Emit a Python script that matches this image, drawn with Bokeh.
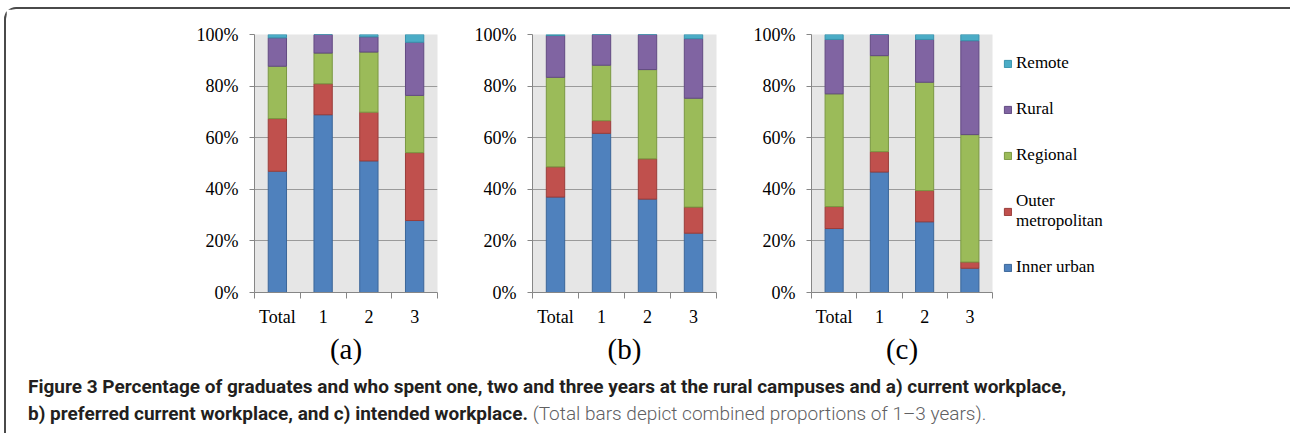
from bokeh.plotting import figure
from bokeh.models import (ColumnDataSource, FixedTicker, PrintfTickFormatter,
                          Legend, LegendItem, Div, Range1d)
from bokeh.layouts import row, column
from bokeh.embed import file_html
from bokeh.resources import INLINE

# ---------------- data ----------------
categories = ["Total", "1", "2", "3"]
layers = ["Inner urban", "Outer metropolitan", "Regional", "Rural", "Remote"]
legend_labels = ["Inner urban", "Outer\nmetropolitan", "Regional", "Rural", "Remote"]
panel_labels = ["(a)", "(b)", "(c)"]
y_ticks = [0, 20, 40, 60, 80, 100]

# (a) current workplace (%)
a_inner    = [47.0, 68.9, 51.0, 27.9]
a_outer    = [20.4, 12.0, 18.9, 26.3]
a_regional = [20.3, 11.9, 23.3, 22.2]
a_rural    = [11.0,  7.2,  5.9, 20.6]
a_remote   = [ 1.3,  0.0,  0.9,  3.0]

# (b) preferred current workplace (%)
b_inner    = [37.0, 61.7, 36.2, 23.0]
b_outer    = [11.7,  4.9, 15.6, 10.1]
b_regional = [34.7, 21.5, 34.6, 42.2]
b_rural    = [16.2, 11.9, 13.6, 23.1]
b_remote   = [ 0.4,  0.0,  0.0,  1.6]

# (c) intended workplace (%)
c_inner    = [24.8, 46.7, 27.4,  9.4]
c_outer    = [ 8.5,  7.9, 12.1,  2.4]
c_regional = [43.7, 37.2, 42.0, 49.4]
c_rural    = [21.1,  8.2, 16.6, 36.4]
c_remote   = [ 1.9,  0.0,  1.9,  2.4]

caption_bold = ("Figure 3 Percentage of graduates and who spent one, two and three years at the rural "
                "campuses and a) current workplace,<br>b) preferred current workplace, and c) intended workplace.")
caption_plain = "(Total bars depict combined proportions of 1\u20133 years)."

# ---------------- style ----------------
fill_colors = ["#4F81BD", "#C0504D", "#9BBB59", "#8064A2", "#4BACC6"]
line_colors = ["#3B6699", "#9A3D3A", "#7A9842", "#624A82", "#3893AD"]
SERIF = "Liberation Serif"
AXIS_GRAY = "#868686"


def make_panel(series, label, frame_width, left, right, with_legend=False):
    keys = ["k%d" % i for i in range(len(layers))]
    data = {"x": [i + 0.5 for i in range(len(categories))]}
    for k, s in zip(keys, series):
        data[k] = s
    src = ColumnDataSource(data)

    p = figure(frame_width=frame_width, frame_height=258,
               min_border_left=left, min_border_right=right,
               min_border_top=25, min_border_bottom=72,
               x_range=Range1d(0, len(categories)), y_range=Range1d(0, 100),
               output_backend="svg", toolbar_location=None)
    p.background_fill_color = "#E6E6E6"
    p.border_fill_color = "white"
    p.outline_line_color = None

    rs = p.vbar_stack(keys, x="x", width=0.4, source=src,
                      fill_color=fill_colors, line_color=line_colors, line_width=1)

    # x axis
    xa = p.xaxis[0]
    xa.ticker = FixedTicker(ticks=data["x"], minor_ticks=list(range(len(categories) + 1)))
    xa.major_label_overrides = {x: c for x, c in zip(data["x"], categories)}
    xa.major_tick_line_color = None
    xa.major_tick_out = 0
    xa.major_tick_in = 0
    xa.minor_tick_line_color = AXIS_GRAY
    xa.minor_tick_in = 0
    xa.minor_tick_out = 6
    xa.axis_line_color = AXIS_GRAY
    xa.major_label_text_font = SERIF
    xa.major_label_text_font_size = "18px"
    xa.major_label_text_color = "black"
    xa.major_label_standoff = 8
    xa.axis_label = label
    xa.axis_label_text_font = SERIF
    xa.axis_label_text_font_size = "29px"
    xa.axis_label_text_font_style = "normal"
    xa.axis_label_text_color = "black"
    xa.axis_label_standoff = 3

    # y axis
    ya = p.yaxis[0]
    ya.ticker = FixedTicker(ticks=y_ticks)
    ya.formatter = PrintfTickFormatter(format="%d%%")
    ya.axis_line_color = AXIS_GRAY
    ya.major_tick_line_color = AXIS_GRAY
    ya.major_tick_in = 0
    ya.major_tick_out = 5
    ya.minor_tick_line_color = None
    ya.major_label_text_font = SERIF
    ya.major_label_text_font_size = "18px"
    ya.major_label_text_color = "black"
    ya.major_label_standoff = 11

    p.xgrid.grid_line_color = None
    p.ygrid.grid_line_color = "#9A9A9A"
    p.ygrid.ticker = FixedTicker(ticks=y_ticks)

    if with_legend:
        items = [LegendItem(label=lab, renderers=[r])
                 for lab, r in reversed(list(zip(legend_labels, rs)))]
        leg = Legend(items=items, location=(11, 15),
                     border_line_color=None, background_fill_alpha=0,
                     glyph_width=9, glyph_height=9, label_standoff=4,
                     label_text_font=SERIF, label_text_font_size="17px",
                     label_text_color="black", label_height=20,
                     spacing=26, padding=0, margin=0)
        p.add_layout(leg, "right")
    return p


pa = make_panel([a_inner, a_outer, a_regional, a_rural, a_remote], panel_labels[0], 183, 248, 32)
pb = make_panel([b_inner, b_outer, b_regional, b_rural, b_remote], panel_labels[1], 184, 63, 33)
pc = make_panel([c_inner, c_outer, c_regional, c_rural, c_remote], panel_labels[2], 181, 62, 287,
                with_legend=True)

caption = Div(
    text=('<div style="line-height:27px;white-space:nowrap">'
          '<span style="font-weight:bold;color:#231F20">' + caption_bold + '</span> '
          '<span style="font-weight:300;color:#606062">' + caption_plain + '</span></div>'),
    width=1250, height=56,
    styles={"font-family": "Roboto, sans-serif",
            "font-size": "19px", "line-height": "27px",
            "padding-left": "17px", "padding-top": "1px"})

layout = column(row(pa, pb, pc), caption, margin=(7, 0, 0, 4),
                styles={"border-left": "2px solid #4A4A4A", "border-top": "2px solid #4A4A4A",
                        "border-right": "2px solid #4A4A4A", "border-radius": "12px 12px 0 0",
                        "background": "white"})

open("out.html", "w").write(file_html(layout, INLINE))
